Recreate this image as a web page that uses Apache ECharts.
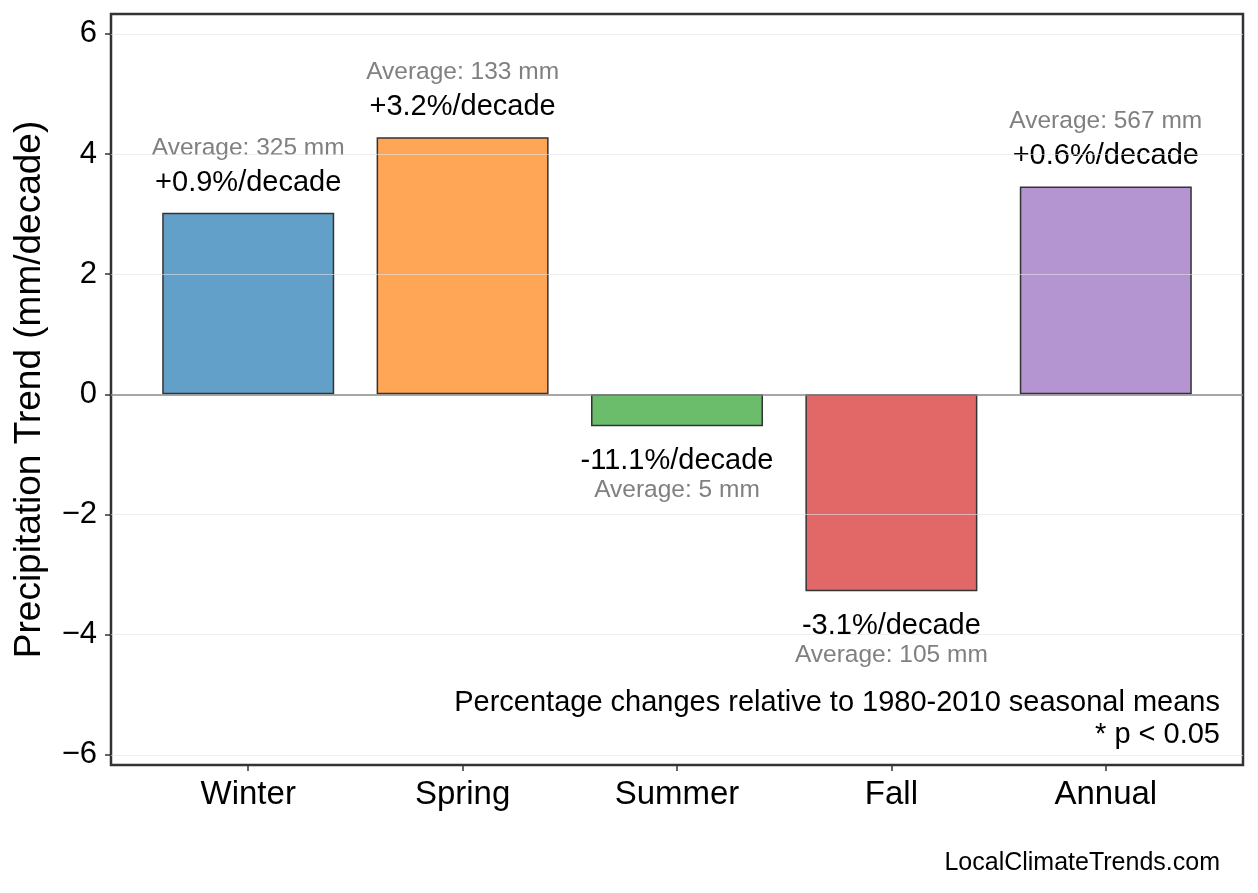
<!DOCTYPE html>
<html>
<head>
<meta charset="utf-8">
<title>Precipitation Trend</title>
<script src="https://cdn.jsdelivr.net/npm/echarts@6/dist/echarts.min.js"></script>
<style>
  body { margin: 0; background: #fff; }
  #main { width: 1258px; height: 893px; }
</style>
</head>
<body>
<div id="main"></div>
<script type="text/javascript">
  // data
  var categories = ['Winter', 'Spring', 'Summer', 'Fall', 'Annual'];
  var trendValues = [3.02, 4.28, -0.53, -3.28, 3.46];
  var pctLabels = ['+0.9%/decade', '+3.2%/decade', '-11.1%/decade', '-3.1%/decade', '+0.6%/decade'];
  var avgLabels = ['Average: 325 mm', 'Average: 133 mm', 'Average: 5 mm', 'Average: 105 mm', 'Average: 567 mm'];
  var barColors = ['#62a0ca', '#ffa556', '#6bbc6b', '#e26868', '#b495d1'];
  var yTicks = [-6, -4, -2, 0, 2, 4, 6];
  var xTicks = [0, 1, 2, 3, 4];

  var FONT = '"Liberation Sans", Arial, Helvetica, sans-serif';

  var barData = trendValues.map(function (v, i) {
    var pos = v >= 0;
    return {
      value: [i, v],
      itemStyle: { color: barColors[i] },
      label: pos ? {
        show: true,
        position: 'top',
        distance: 15,
        formatter: '{avg|' + avgLabels[i] + '}\n{tr|' + pctLabels[i] + '}',
        rich: {
          avg: { fontSize: 24.5, color: '#808080', lineHeight: 40, fontFamily: FONT },
          tr: { fontSize: 29, color: '#000', lineHeight: 30, fontFamily: FONT }
        }
      } : {
        show: true,
        position: 'bottom',
        distance: 20,
        formatter: '{tr|' + pctLabels[i] + '}\n{avg|' + avgLabels[i] + '}',
        rich: {
          avg: { fontSize: 24.5, color: '#808080', lineHeight: 28, fontFamily: FONT },
          tr: { fontSize: 29, color: '#000', lineHeight: 30, fontFamily: FONT }
        }
      }
    };
  });

  var gridLines = yTicks.filter(function (t) { return t !== 0; }).map(function (t) {
    return { yAxis: t, lineStyle: { color: '#e4e4e4', width: 1, opacity: 0.6, type: 'solid' } };
  });
  gridLines.push({ yAxis: 0, lineStyle: { color: '#8a8a8a', width: 1.5, type: 'solid' } });

  var chart = echarts.init(document.getElementById('main'));
  chart.setOption({
    animation: false,
    backgroundColor: '#fff',
    textStyle: { fontFamily: FONT },
    grid: {
      left: 111, right: 15, top: 14, bottom: 128,
      show: true, borderColor: '#333', borderWidth: 2.5, backgroundColor: 'transparent'
    },
    xAxis: {
      type: 'value',
      min: -0.64, max: 4.64,
      splitLine: { show: false },
      axisLine: { show: false, onZero: false },
      axisTick: { show: true, length: 6, customValues: xTicks, lineStyle: { color: '#333', width: 1.5 } },
      axisLabel: {
        customValues: xTicks,
        margin: 13,
        fontSize: 33,
        color: '#000',
        fontFamily: FONT,
        formatter: function (v) { return categories[Math.round(v)]; }
      }
    },
    yAxis: {
      type: 'value',
      min: -6.17, max: 6.33,
      name: 'Precipitation Trend (mm/decade)',
      nameLocation: 'middle',
      nameGap: 63,
      nameTextStyle: { fontSize: 37, color: '#000', fontFamily: FONT },
      splitLine: { show: false },
      axisLine: { show: false, onZero: false },
      axisTick: { show: true, length: 6, customValues: yTicks, lineStyle: { color: '#333', width: 1.5 } },
      axisLabel: {
        customValues: yTicks,
        margin: 14,
        fontSize: 31,
        color: '#000',
        fontFamily: FONT,
        formatter: function (v) { return v < 0 ? '\u2212' + Math.abs(v) : String(v); }
      }
    },
    graphic: [
      { type: 'text', right: 38, top: 688, style: { text: 'Percentage changes relative to 1980-2010 seasonal means', fill: '#000', font: '29px ' + FONT, textAlign: 'right' } },
      { type: 'text', right: 38, top: 720, style: { text: '* p < 0.05', fill: '#000', font: '29px ' + FONT, textAlign: 'right' } },
      { type: 'text', right: 38, top: 851, style: { text: 'LocalClimateTrends.com', fill: '#000', font: '25px ' + FONT, textAlign: 'right' } }
    ],
    series: [{
      type: 'bar',
      barWidth: 172,
      data: barData,
      itemStyle: { borderColor: '#333', borderWidth: 1.5 },
      markLine: {
        silent: true,
        symbol: 'none',
        label: { show: false },
        data: gridLines
      }
    }]
  });
</script>
</body>
</html>
